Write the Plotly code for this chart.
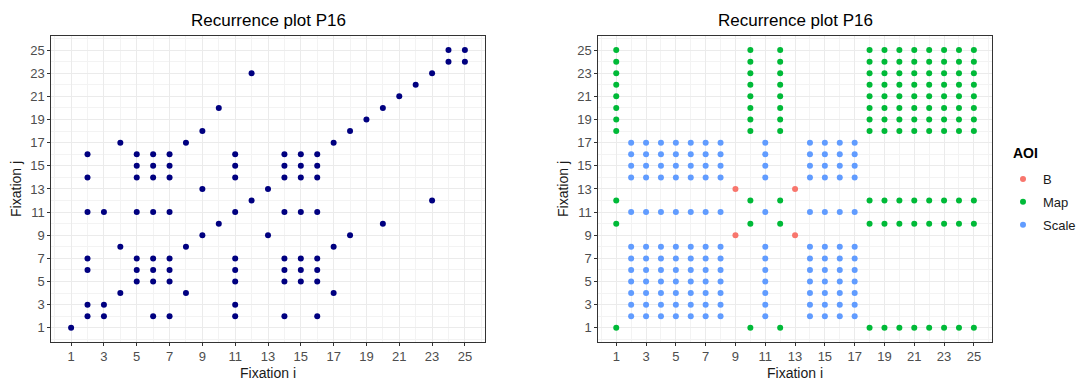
import plotly.graph_objects as go

# ---------------- data ----------------
fixations = list(range(1, 26))

# Left panel: recurrent j values for each fixation i (1..25)
left_j_by_i = [
    [1],
    [2, 3, 6, 7, 11, 14, 16],
    [2, 3, 11],
    [4, 8, 17],
    [5, 6, 7, 11, 14, 15, 16],
    [2, 5, 6, 7, 11, 14, 15, 16],
    [2, 5, 6, 7, 11, 14, 15, 16],
    [4, 8, 17],
    [9, 13, 18],
    [10, 20],
    [2, 3, 5, 6, 7, 11, 14, 15, 16],
    [12, 23],
    [9, 13],
    [2, 5, 6, 7, 11, 14, 15, 16],
    [5, 6, 7, 11, 14, 15, 16],
    [2, 5, 6, 7, 11, 14, 15, 16],
    [4, 8, 17],
    [9, 18],
    [19],
    [10, 20],
    [21],
    [22],
    [12, 23],
    [24, 25],
    [24, 25],
]

# Right panel: AOI of each fixation (1..25)
aoi_sequence = [
    "Map", "Scale", "Scale", "Scale", "Scale", "Scale", "Scale", "Scale",
    "B", "Map", "Scale", "Map", "B", "Scale", "Scale", "Scale", "Scale",
    "Map", "Map", "Map", "Map", "Map", "Map", "Map", "Map",
]
aoi_levels = ["B", "Map", "Scale"]
aoi_colors = ["#F8766D", "#00BA38", "#619CFF"]

tick_values = list(range(1, 26, 2))
tick_labels = [str(v) for v in tick_values]

# ---------------- figure ----------------
W, H = 1081, 381
fig = go.Figure()

left_x, left_y = [], []
for i, js in zip(fixations, left_j_by_i):
    for j in js:
        left_x.append(i)
        left_y.append(j)

fig.add_trace(go.Scatter(
    x=left_x, y=left_y, mode="markers",
    marker=dict(color="#000080", size=6),
    showlegend=False, xaxis="x", yaxis="y", hoverinfo="x+y",
))

for lvl, col in zip(aoi_levels, aoi_colors):
    xs, ys = [], []
    for i, ai in zip(fixations, aoi_sequence):
        for j, aj in zip(fixations, aoi_sequence):
            if ai == lvl and aj == lvl:
                xs.append(i)
                ys.append(j)
    fig.add_trace(go.Scatter(
        x=xs, y=ys, mode="markers", name=lvl, legendgroup=lvl,
        marker=dict(color=col, size=6),
        xaxis="x2", yaxis="y2",
    ))

def px_x(p):
    return p / W

def px_y(p):
    return 1 - p / H

grid_major = "#EBEBEB"
grid_minor = "#F3F3F3"
tickfont = dict(family="Liberation Sans, Arial, sans-serif", size=13, color="#4D4D4D")
titlefont = dict(family="Liberation Sans, Arial, sans-serif", size=14, color="#1A1A1A")

def axis_common(domain, anchor, title):
    return dict(
        domain=domain, anchor=anchor,
        range=[-0.2, 26.2], autorange=False,
        tickmode="array", tickvals=tick_values, ticktext=tick_labels,
        ticks="outside", ticklen=3, tickcolor="#333333", tickwidth=1,
        tickfont=tickfont,
        showgrid=True, gridcolor=grid_major, gridwidth=1,
        minor=dict(tickmode="array", tickvals=list(range(0, 27, 2)),
                   showgrid=True, gridcolor=grid_minor, gridwidth=0.6, ticks=""),
        showline=True, linecolor="#333333", linewidth=1, mirror=True,
        zeroline=False,
        title=dict(text=title, font=titlefont, standoff=5),
        automargin=False,
    )

y_dom = [px_y(341.7), px_y(36.2)]
fig.update_layout(
    width=W, height=H,
    margin=dict(l=0, r=0, t=0, b=0),
    paper_bgcolor="white", plot_bgcolor="white",
    font=dict(family="Liberation Sans, Arial, sans-serif"),
    xaxis=axis_common([px_x(51.7), px_x(487.3)], "y", "Fixation i"),
    yaxis=axis_common(y_dom, "x", "Fixation j"),
    xaxis2=axis_common([px_x(601.7), px_x(997.3)], "y2", "Fixation i"),
    yaxis2=axis_common(y_dom, "x2", "Fixation j"),
    legend=dict(
        x=px_x(1009), y=px_y(164), xanchor="left", yanchor="top",
        font=dict(size=13, color="#1A1A1A"),
        itemsizing="trace", tracegroupgap=3,
        bgcolor="rgba(0,0,0,0)",
    ),
    annotations=[
        dict(text="Recurrence plot P16", x=(px_x(51.7) + px_x(487.3)) / 2, y=px_y(20),
             xref="paper", yref="paper", showarrow=False,
             font=dict(size=17, color="#000000"), xanchor="center", yanchor="middle"),
        dict(text="Recurrence plot P16", x=(px_x(601.7) + px_x(997.3)) / 2, y=px_y(20),
             xref="paper", yref="paper", showarrow=False,
             font=dict(size=17, color="#000000"), xanchor="center", yanchor="middle"),
        dict(text="<b>AOI</b>", x=px_x(1017), y=px_y(153),
             xref="paper", yref="paper", showarrow=False,
             font=dict(size=14, color="#000000"), xanchor="left", yanchor="middle"),
    ],
)

fig.write_html(
    "out.html",
    config={"displayModeBar": False},
    post_script="document.body.style.margin='0';document.body.style.overflow='hidden';",
)
